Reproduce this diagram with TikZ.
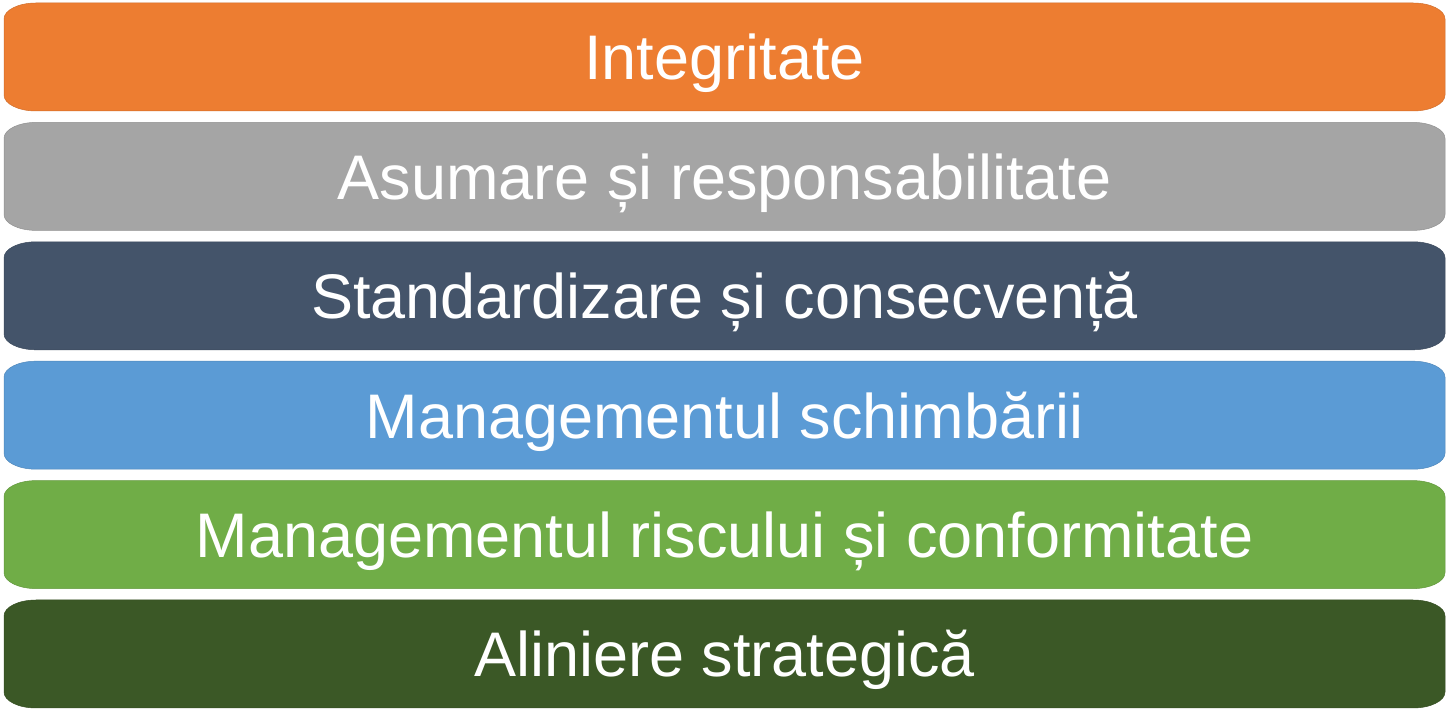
\documentclass[tikz,border=0pt]{standalone}
\usepackage{fontspec}
\setmainfont{Liberation Sans}
\definecolor{cOrange}{HTML}{ED7D31}
\definecolor{cGray}{HTML}{A5A5A5}
\definecolor{cNavy}{HTML}{44546A}
\definecolor{cBlue}{HTML}{5B9BD5}
\definecolor{cGreen}{HTML}{70AD47}
\definecolor{cDark}{HTML}{3B5826}
\tikzset{
  barlabel/.style={text=white, font=\fontsize{63}{70}\selectfont, anchor=base, inner sep=0pt},
}
\begin{document}
\begin{tikzpicture}[x=1pt,y=1pt]
\path[fill=white] (0,0) rectangle (1448,720);
\useasboundingbox (0,0) rectangle (1448,720);
\foreach \i/\col/\txt/\nm in {0/cOrange/Integritate/b0,
  1/cGray/Asumare și responsabilitate/b1,
  2/cNavy/Standardizare și consecvență/b2,
  3/cBlue/Managementul schimbării/b3,
  4/cGreen/Managementul riscului și conformitate/b4,
  5/cDark/Aliniere strategică/b5}{
  \pgfmathsetmacro{\tp}{717-119.4*\i}
  \pgfmathsetmacro{\bt}{\tp-108}
  \pgfmathsetmacro{\md}{\tp-54}
  \fill[\col, draw=\col!88!black, line width=0.5pt]
    (36,\tp) -- (1413,\tp)
    arc[start angle=90, end angle=0, x radius=32pt, y radius=16pt]
    -- (1445,\bt+16)
    arc[start angle=0, end angle=-90, x radius=32pt, y radius=16pt]
    -- (36,\bt)
    arc[start angle=270, end angle=180, x radius=32pt, y radius=16pt]
    -- (4,\tp-16)
    arc[start angle=180, end angle=90, x radius=32pt, y radius=16pt]
    -- cycle;
  \node[barlabel] (\nm) at (724.5,\md-23) {\txt};
}
\end{tikzpicture}
\end{document}
